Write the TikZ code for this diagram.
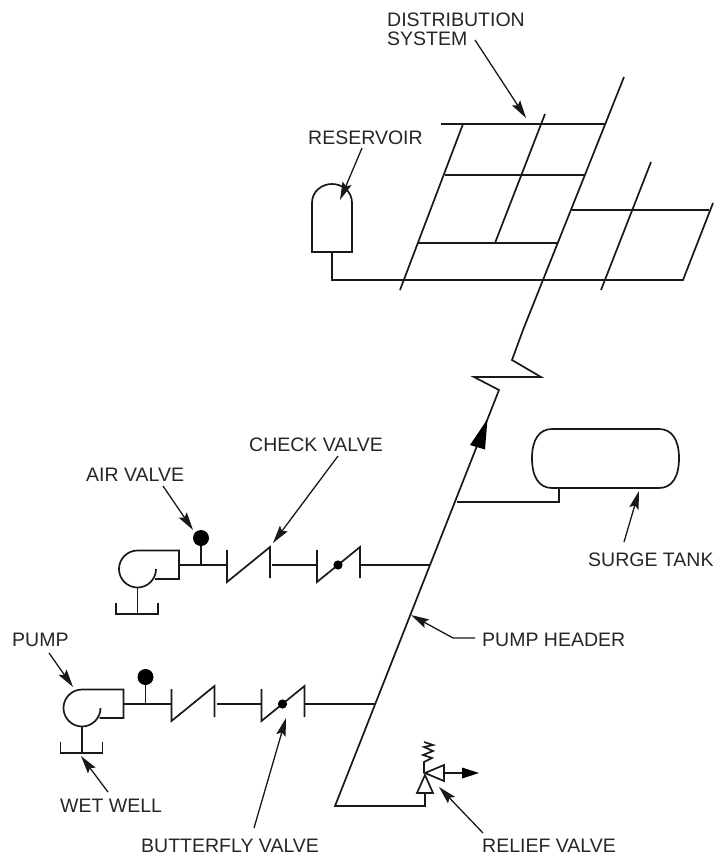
\documentclass[tikz,border=0pt]{standalone}
\usepackage{fontspec}
\setmainfont{Liberation Sans}
\usetikzlibrary{arrows.meta}
\tikzset{
  pipe/.style={line width=1.7pt,line join=miter,black!90},
  leader/.style={line width=1.3pt,black!90,-{Stealth[length=18pt,width=9.5pt,inset=3pt]}},
  lbl/.style={anchor=west,inner sep=0pt,font=\fontsize{19.5}{19}\selectfont,text=black!85},
  lbltwo/.style={lbl,align=left}
}
\newcommand{\pumptrain}{%
  \draw[pipe] (156,569) arc[start angle=0,end angle=270,radius=18.5] -- (179,550.5) -- (179,579) -- (155,579);
  \draw[pipe] (137.5,587.5) -- (137.5,614);
  \draw[pipe] (116,603) -- (116,614) -- (158,614) -- (158,603);
  \draw[pipe] (179,565) -- (227,565);
  \draw[pipe] (201,565) -- (201,543);
  \fill (201,538) circle[radius=8];
  \draw[pipe] (227,550) -- (227,582) -- (270,547) -- (270,578);
  \draw[pipe] (272,565) -- (317,565);
  \draw[pipe] (317,550) -- (317,582) -- (360,547) -- (360,578);
  \fill (338,565) circle[radius=4.6];
}
\begin{document}
\begin{tikzpicture}[x=1pt,y=-1pt]
\useasboundingbox (0,0) rectangle (713,856);
\fill[white] (0,0) rectangle (713,856);

% distribution grid
\draw[pipe] (441,124) -- (605,124);
\draw[pipe] (445,175) -- (585,175);
\draw[pipe] (418,243) -- (558,243);
\draw[pipe] (572,210) -- (709,210);
\draw[pipe] (463,124) -- (400,290);
\draw[pipe] (545,114) -- (495,243);
\draw[pipe] (651,162) -- (601,290);
\draw[pipe] (713,203) -- (683,280) -- (332,280) -- (332,252);
% reservoir
\draw[pipe] (312,252) -- (312,203) .. controls (312,191) and (322,184) .. (332,184) .. controls (342,184) and (352,191) .. (352,203) -- (352,252) -- cycle;

% main with break and header
\draw[pipe] (624,77) -- (523,330) -- (512,360) -- (541,377) -- (474,377) -- (499,390) -- (335,806) -- (425,806) -- (425,793);
\fill (487.5,419) -- (470,445) -- (485,449.5) -- cycle;

% surge tank
\draw[pipe] (552,429) -- (659,429) .. controls (672,429) and (679,440) .. (679,458) .. controls (679,477) and (672,488) .. (659,488) -- (552,488) .. controls (539,488) and (532,477) .. (532,458) .. controls (532,440) and (539,429) .. (552,429) -- cycle;
\draw[pipe] (559,488) -- (559,502) -- (457,502);

% pump trains
\pumptrain
\draw[pipe] (360,565) -- (430,565);
\begin{scope}[shift={(-55.5,139)}]
\pumptrain
\end{scope}
\draw[pipe] (304.5,704) -- (375,704);

% relief valve
\draw[pipe] (425,775) -- (417,793) -- (433,793) -- cycle;
\draw[pipe] (425,773) -- (444,765) -- (444,781) -- cycle;
\draw[pipe] (424,773) -- (424,762) -- (432,758) -- (423,755) -- (433,751) -- (424,747) -- (433,745) -- (424,742);
\draw[pipe] (444,773) -- (462,773);
\fill (479,773) -- (462,767.5) -- (462,778.5) -- cycle;

% labels
\node[lbltwo] (distlbl) at (387,29) {DISTRIBUTION\\SYSTEM};
\node[lbl] (reslbl) at (308,138) {RESERVOIR};
\node[lbl] (checklbl) at (249,444.5) {CHECK VALVE};
\node[lbl] (airlbl) at (86,475) {AIR VALVE};
\node[lbl] (surgelbl) at (588,560) {SURGE TANK};
\node[lbl] (headerlbl) at (482,640) {PUMP HEADER};
\node[lbl] (pumplbl) at (12,640) {PUMP};
\node[lbl] (welllbl) at (60,806) {WET WELL};
\node[lbl] (bflylbl) at (141,846) {BUTTERFLY VALVE};
\node[lbl] (relieflbl) at (482,846) {RELIEF VALVE};

% leader end points
\coordinate (distA) at (475,40);   \coordinate (distB) at (526,118);
\coordinate (resA) at (362,148);   \coordinate (resB) at (340,200);
\coordinate (checkA) at (338,456); \coordinate (checkB) at (273,543);
\coordinate (airA) at (163,486);   \coordinate (airB) at (193,530);
\coordinate (surgeA) at (624,542); \coordinate (surgeB) at (639,491);
\coordinate (headA) at (475,638);  \coordinate (headB) at (453,638); \coordinate (headC) at (411,615);
\coordinate (pumpA) at (49,653);   \coordinate (pumpB) at (73,687);
\coordinate (wellA) at (108,792);  \coordinate (wellB) at (81,756);
\coordinate (bflyA) at (254,828);  \coordinate (bflyB) at (286,718);
\coordinate (relA) at (483,833);   \coordinate (relB) at (439,787);

\draw[leader] (distA) -- (distB);
\draw[leader] (resA) -- (resB);
\draw[leader] (checkA) -- (checkB);
\draw[leader] (airA) -- (airB);
\draw[leader] (surgeA) -- (surgeB);
\draw[leader] (headA) -- (headB) -- (headC);
\draw[leader] (pumpA) -- (pumpB);
\draw[leader] (wellA) -- (wellB);
\draw[leader] (bflyA) -- (bflyB);
\draw[leader] (relA) -- (relB);
\end{tikzpicture}
\end{document}
